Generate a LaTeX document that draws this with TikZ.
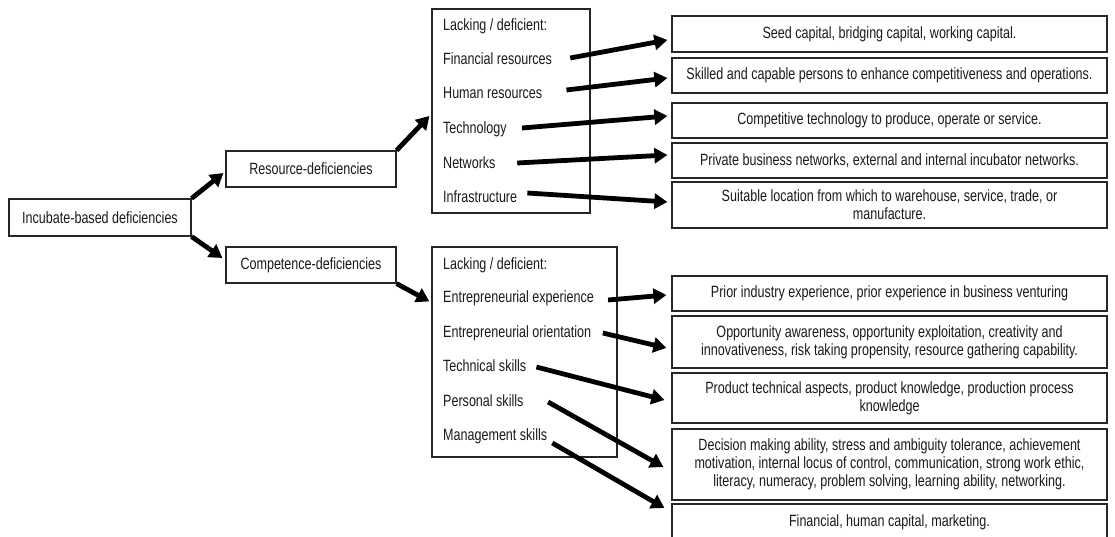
\documentclass[tikz,border=0pt]{standalone}
\usepackage{fontspec}
\setmainfont{Liberation Sans}[FakeStretch=0.77]
\usetikzlibrary{arrows.meta,calc}

\begin{document}
\begin{tikzpicture}[x=1pt, y=-1pt,
        font=\fontsize{16.3}{18}\selectfont,
        box/.style={draw=black!85, line width=1.2pt, inner sep=0pt, align=center, text=black!90},
        goal/.style={box, minimum width=435pt},
        item/.style={anchor=west, inner sep=0pt, text height=11.7pt, text depth=0pt, text=black!90},
        arr/.style={line width=4.8pt, -{Triangle[length=13pt,width=15pt]}}]
            \useasboundingbox (0,0) rectangle (1115,537);
            \node[box, minimum width=182pt, minimum height=37pt] (inc) at (100,217.5) {Incubate-based deficiencies};
            \node[box, minimum width=170pt, minimum height=36pt] (res) at (311,169) {Resource-deficiencies};
            \node[box, minimum width=170pt, minimum height=36pt] (comp) at (311,265) {Competence-deficiencies};
            % resource list
            \node[box, minimum width=158pt, minimum height=204pt] (rlist) at (511,111) {};
            \node[item] (rlack) at (443,25) {Lacking / deficient:};
            \node[item] (rfin) at (443,59) {Financial resources};
            \node[item] (rhum) at (443,93) {Human resources};
            \node[item] (rtech) at (443,128) {Technology};
            \node[item] (rnet) at (443,163) {Networks};
            \node[item] (rinfra) at (443,197) {Infrastructure};
            % competence list
            \node[box, minimum width=185pt, minimum height=210pt] (clist) at (524.5,352) {};
            \node[item] (clack) at (443,264) {Lacking / deficient:};
            \node[item] (cexp) at (443,297) {Entrepreneurial experience};
            \node[item] (cori) at (443,332) {Entrepreneurial orientation};
            \node[item] (ctech) at (443,366) {Technical skills};
            \node[item] (cpers) at (443,401) {Personal skills};
            \node[item] (cman) at (443,435) {Management skills};
            % right column
            \node[goal, minimum height=36pt] (seed) at (889.5,34) {Seed capital, bridging capital, working capital.};
            \node[goal, minimum height=35pt] (skill) at (889.5,75.5) {Skilled and capable persons to enhance competitiveness and operations.};
            \node[goal, minimum height=35pt] (comptech) at (889.5,120.5) {Competitive technology to produce, operate or service.};
            \node[goal, minimum height=35pt] (netw) at (889.5,160.5) {Private business networks, external and internal incubator networks.};
            \node[goal, minimum height=46pt] (loc) at (889.5,205) {Suitable location from which to warehouse, service, trade, or\\manufacture.};
            \node[goal, minimum height=35pt] (prior) at (889.5,293.5) {Prior industry experience, prior experience in business venturing};
            \node[goal, minimum height=52pt] (opp) at (889.5,342) {Opportunity awareness, opportunity exploitation, creativity and\\innovativeness, risk taking propensity, resource gathering capability.};
            \node[goal, minimum height=50pt] (prod) at (889.5,398) {Product technical aspects, product knowledge, production process\\knowledge};
            \node[goal, minimum height=71pt] (dec) at (889.5,464.5) {Decision making ability, stress and ambiguity tolerance, achievement\\motivation, internal locus of control, communication, strong work ethic,\\literacy, numeracy, problem solving, learning ability, networking.};
            \node[goal, minimum height=36pt] (finhum) at (889.5,522) {Financial, human capital, marketing.}; % bottom edge falls below the page
            \draw[arr] (inc.north east) -- ($(res.west)+(-2,4)$);
            \draw[arr] (inc.south east) -- ($(comp.west)+(-3,-7)$);
            \draw[arr] (res.north east) -- ($(rlist.west)+(-2,5)$);
            \draw[arr] (comp.south east) -- ($(clist.north west)+(-2,55)$);
            \draw[arr] ($(rfin.east)+(18,-1)$) -- ($(seed.west)+(-4,6)$);
            \draw[arr] ($(rhum.east)+(24,-3)$) -- ($(skill.west)+(-4,2.5)$);
            \draw[arr] ($(rtech.east)+(15,0)$) -- ($(comptech.west)+(-4,-4.5)$);
            \draw[arr] ($(rnet.east)+(21.5,0)$) -- ($(netw.west)+(-4,-5.5)$);
            \draw[arr] ($(rinfra.east)+(10,-4)$) -- ($(loc.west)+(-4,-3)$);
            \draw[arr] ($(cexp.east)+(14,3)$) -- ($(prior.west)+(-5,1.5)$);
            \draw[arr] ($(cori.east)+(11.5,1)$) -- ($(opp.west)+(-5,6)$);
            \draw[arr] ($(ctech.east)+(10,1)$) -- ($(prod.west)+(-7,2)$);
            \draw[arr] ($(cpers.east)+(24.5,1)$) -- ($(dec.west)+(-8,2.5)$);
            \draw[arr] ($(cman.east)+(5,8)$) -- ($(finhum.west)+(-7,-14)$);
        \end{tikzpicture}
\end{document}
